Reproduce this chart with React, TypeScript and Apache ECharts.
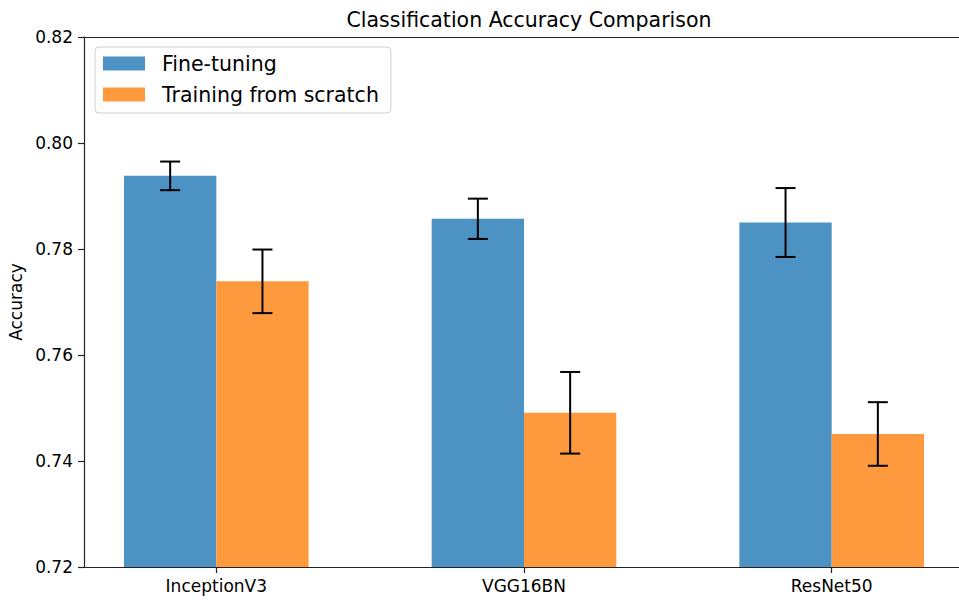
import React, { useEffect, useRef } from "react";
import * as echarts from "echarts";

const categories = ["InceptionV3", "VGG16BN", "ResNet50"];
const seriesNames = ["Fine-tuning", "Training from scratch"];
const fineTuning = [0.7938, 0.7857, 0.785];
const fineTuningErr = [0.0027, 0.0038, 0.0065];
const scratch = [0.7739, 0.7491, 0.7451];
const scratchErr = [0.006, 0.0077, 0.006];
const yTicks = [0.72, 0.74, 0.76, 0.78, 0.8, 0.82];

const BLUE = "#4c92c3";
const ORANGE = "#ff993e";
const FONT = "DejaVu Sans";

function makeRender(offset: number, color: string) {
  return (params: any, api: any) => {
    const x = api.value(0);
    const y = api.value(1);
    const e = api.value(2);
    const base = yTicks[0];
    const tl = api.coord([x + offset - 0.15, y]);
    const br = api.coord([x + offset + 0.15, base]);
    const top = api.coord([x + offset, y + e]);
    const bot = api.coord([x + offset, y - e]);
    const cap = 10;
    const ls = { stroke: "#000", lineWidth: 2 };
    return {
      type: "group",
      children: [
        {
          type: "rect",
          shape: { x: tl[0], y: tl[1], width: br[0] - tl[0], height: br[1] - tl[1] },
          style: { fill: color },
        },
        { type: "line", shape: { x1: top[0], y1: top[1], x2: bot[0], y2: bot[1] }, style: ls },
        { type: "line", shape: { x1: top[0] - cap, y1: top[1], x2: top[0] + cap, y2: top[1] }, style: ls },
        { type: "line", shape: { x1: bot[0] - cap, y1: bot[1], x2: bot[0] + cap, y2: bot[1] }, style: ls },
      ],
    };
  };
}

export default function App() {
  const ref = useRef<HTMLDivElement>(null);
  useEffect(() => {
    if (!ref.current) return;
    document.body.style.margin = "0";
    document.body.style.overflow = "hidden";
    const chart = echarts.init(ref.current, null, { renderer: "svg" });
    const idx = categories.map((_, i) => i);
    const axisLineStyle = { color: "#222", width: 1.2 };
    chart.setOption({
      animation: false,
      backgroundColor: "#fff",
      textStyle: { fontFamily: FONT },
      title: {
        text: "Classification Accuracy Comparison",
        left: 524,
        textAlign: "center",
        top: 4,
        textStyle: { fontFamily: FONT, fontSize: 20.5, fontWeight: "normal", color: "#000" },
      },
      grid: {
        left: 84,
        top: 37,
        width: 880,
        height: 530,
        outerBoundsMode: "none",
        containLabel: false,
        show: false,
      },
      legend: {
        orient: "vertical",
        left: 95,
        top: 47,
        icon: "rect",
        itemWidth: 42,
        itemHeight: 14,
        itemGap: 10,
        padding: [6, 12, 8, 8],
        backgroundColor: "#fff",
        borderColor: "#d0d0d0",
        borderWidth: 1,
        borderRadius: 4,
        data: [
          { name: seriesNames[0], itemStyle: { color: BLUE } },
          { name: seriesNames[1], itemStyle: { color: ORANGE } },
        ],
        textStyle: { fontFamily: FONT, fontSize: 20.5, color: "#000", lineHeight: 21, padding: [0, 0, 0, 12] },
      },
      xAxis: [
        {
          type: "value",
          min: -0.43,
          max: 2.43,
          z: 5,
          splitLine: { show: false },
          axisLine: { show: true, onZero: false, lineStyle: axisLineStyle },
          axisTick: { show: true, customValues: idx, length: 6, lineStyle: axisLineStyle },
          axisLabel: {
            customValues: idx,
            formatter: (v: number) => categories[Math.round(v)] ?? "",
            fontFamily: FONT,
            fontSize: 17,
            color: "#000",
            margin: 10,
          },
        },
        {
          type: "value",
          position: "top",
          min: -0.43,
          max: 2.43,
          z: 5,
          splitLine: { show: false },
          axisLine: { show: true, onZero: false, lineStyle: axisLineStyle },
          axisTick: { show: false },
          axisLabel: { show: false },
        },
      ],
      yAxis: {
        type: "value",
        min: yTicks[0],
        max: yTicks[yTicks.length - 1],
        interval: 0.02,
        z: 5,
        name: "Accuracy",
        nameLocation: "middle",
        nameRotate: 90,
        nameGap: 58,
        nameTextStyle: { fontFamily: FONT, fontSize: 17, color: "#000" },
        splitLine: { show: false },
        axisLine: { show: true, onZero: false, lineStyle: axisLineStyle },
        axisTick: { show: true, length: 6, lineStyle: axisLineStyle },
        axisLabel: {
          formatter: (v: number) => v.toFixed(2),
          fontFamily: FONT,
          fontSize: 17,
          color: "#000",
          margin: 11,
        },
      },
      graphic: [
        {
          type: "rect",
          z: 100,
          shape: { x: 945, y: 40, width: 14, height: 525 },
          style: { fill: "#fff" },
        },
      ],
      series: [
        {
          name: seriesNames[0],
          type: "custom",
          itemStyle: { color: BLUE },
          renderItem: makeRender(-0.15, BLUE),
          encode: { x: 0, y: 1 },
          data: idx.map((i) => [i, fineTuning[i], fineTuningErr[i]]),
        },
        {
          name: seriesNames[1],
          type: "custom",
          itemStyle: { color: ORANGE },
          renderItem: makeRender(0.15, ORANGE),
          encode: { x: 0, y: 1 },
          data: idx.map((i) => [i, scratch[i], scratchErr[i]]),
        },
      ],
    });
    return () => chart.dispose();
  }, []);
  return (
    <div
      ref={ref}
      style={{ position: "absolute", left: 0, top: 0, width: 959, height: 604 }}
    />
  );
}
